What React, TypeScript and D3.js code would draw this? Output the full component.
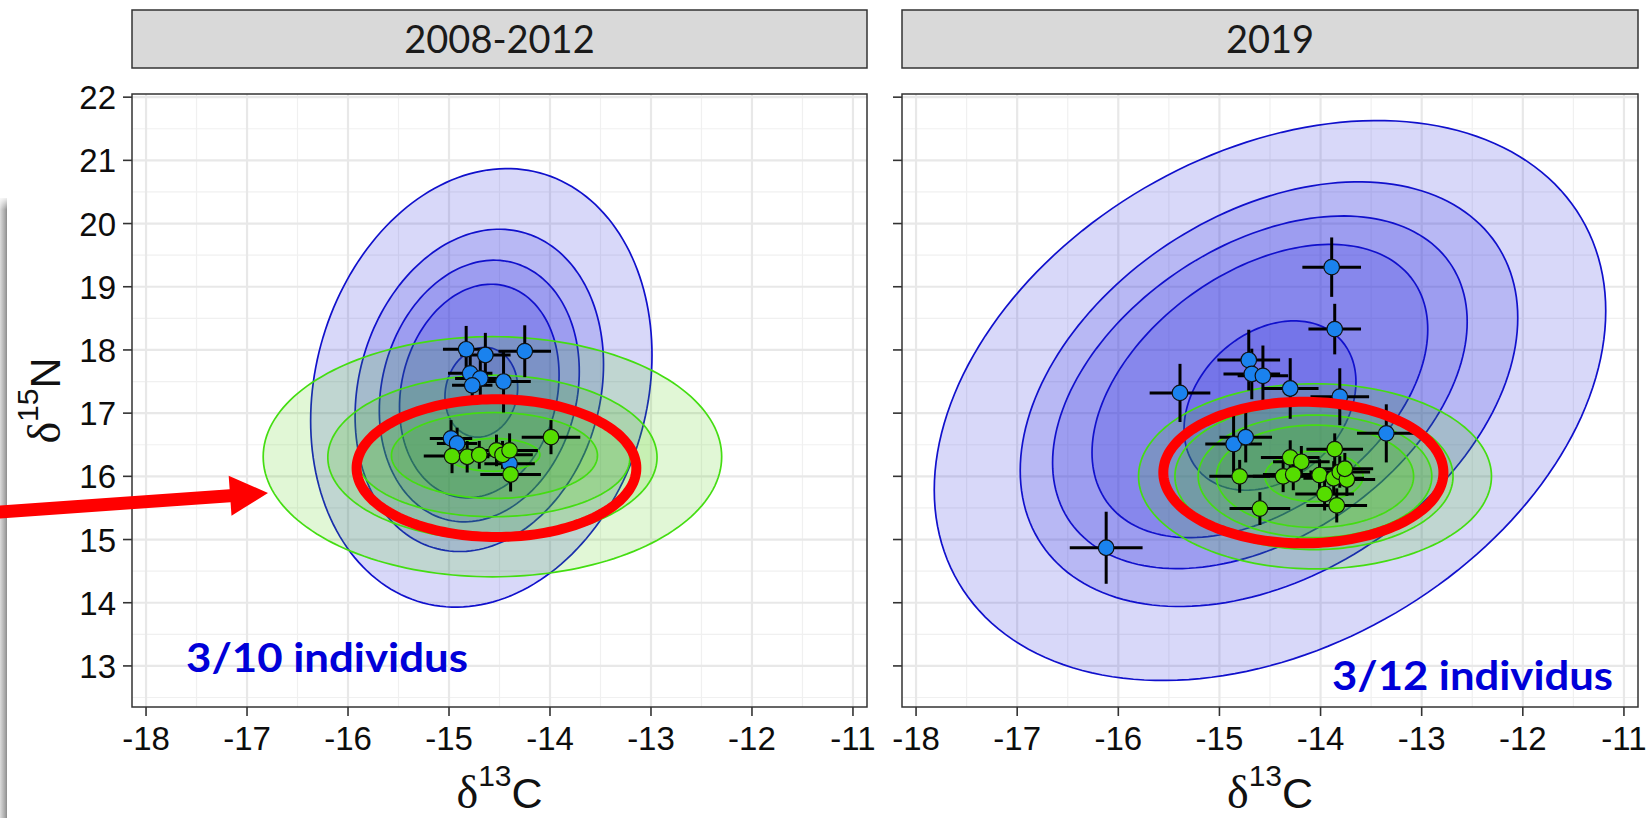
import React from 'react';
import * as d3 from 'd3';

const W = 1648;
const H = 818;

// ---------- data ----------
const panelTitles = ['2008-2012', '2019'];
const xTicks = [-18, -17, -16, -15, -14, -13, -12, -11];
const yTicks = [13, 14, 15, 16, 17, 18, 19, 20, 21, 22];
const xMinor = [-17.5, -16.5, -15.5, -14.5, -13.5, -12.5, -11.5];
const yMinor = [12.5, 13.5, 14.5, 15.5, 16.5, 17.5, 18.5, 19.5, 20.5, 21.5];
const notes = ['3/10 individus', '3/12 individus'];

// contour ellipses: [cx, cy, half-width (C), half-height (N), correlation]
const blueEllipses2008 = [
  [-14.68, 17.4, 1.69, 3.47, 0.15],
  [-14.7, 17.36, 1.23, 2.55, 0.16],
  [-14.7, 17.35, 0.99, 2.07, 0.15],
  [-14.7, 17.35, 0.79, 1.69, 0.15],
  [-14.68, 17.33, 0.36, 0.71, 0.1],
];
const greenEllipses2008 = [
  [-14.57, 16.31, 2.27, 1.9, 0.0],
  [-14.57, 16.3, 1.63, 1.3, 0.0],
  [-14.56, 16.28, 1.35, 0.92, 0.0],
  [-14.55, 16.33, 1.02, 0.68, 0.0],
  [-14.56, 16.34, 0.46, 0.26, 0.0],
];
const blueEllipses2019 = [
  [-14.5, 17.2, 3.32, 4.43, 0.32],
  [-14.51, 17.3, 2.46, 3.36, 0.36],
  [-14.6, 17.33, 2.05, 2.79, 0.4],
  [-14.6, 17.35, 1.66, 2.32, 0.42],
  [-14.5, 17.12, 0.85, 1.34, 0.28],
];
const greenEllipses2019 = [
  [-14.055, 16.0, 1.745, 1.465, 0.0],
  [-14.065, 16.0, 1.375, 1.16, 0.0],
  [-14.055, 16.0, 1.155, 0.97, 0.0],
  [-14.055, 16.0, 0.975, 0.81, 0.0],
  [-14.065, 16.0, 0.485, 0.4, 0.0],
];
// highlight ellipses: [cx, cy, hx, hy]
const redEllipses = [
  [-14.53, 16.13, 1.385, 1.09],
  [-14.17, 16.06, 1.385, 1.12],
];

// points: [d13C, d15N, sdC, sdN]
const bluePoints2008 = [
  [-14.83, 18.01, 0.23, 0.37],
  [-14.64, 17.92, 0.25, 0.35],
  [-14.25, 17.98, 0.26, 0.41],
  [-14.79, 17.63, 0.22, 0.3],
  [-14.69, 17.55, 0.25, 0.3],
  [-14.46, 17.5, 0.27, 0.49],
  [-14.77, 17.44, 0.2, 0.3],
  [-14.98, 16.6, 0.21, 0.29],
  [-14.92, 16.52, 0.2, 0.25],
  [-14.4, 16.2, 0.25, 0.3],
];
const greenPoints2008 = [
  [-14.97, 16.32, 0.28, 0.27],
  [-14.82, 16.31, 0.22, 0.25],
  [-14.7, 16.34, 0.2, 0.22],
  [-14.53, 16.41, 0.25, 0.25],
  [-14.47, 16.34, 0.3, 0.22],
  [-14.4, 16.41, 0.28, 0.27],
  [-14.39, 16.03, 0.3, 0.27],
  [-13.99, 16.62, 0.29, 0.27],
];
const bluePoints2019 = [
  [-13.89, 19.31, 0.29, 0.47],
  [-13.86, 18.33, 0.26, 0.4],
  [-15.39, 17.32, 0.3, 0.46],
  [-14.71, 17.84, 0.31, 0.48],
  [-14.68, 17.62, 0.28, 0.4],
  [-14.57, 17.59, 0.25, 0.48],
  [-14.3, 17.39, 0.28, 0.48],
  [-13.81, 17.26, 0.29, 0.45],
  [-13.35, 16.68, 0.29, 0.46],
  [-14.86, 16.51, 0.28, 0.45],
  [-14.74, 16.62, 0.26, 0.4],
  [-16.12, 14.87, 0.36, 0.57],
];
const greenPoints2019 = [
  [-14.3, 16.3, 0.29, 0.27],
  [-14.19, 16.23, 0.28, 0.25],
  [-13.86, 16.43, 0.28, 0.25],
  [-14.8, 16.0, 0.3, 0.26],
  [-14.37, 16.0, 0.3, 0.25],
  [-14.27, 16.03, 0.3, 0.25],
  [-14.01, 16.02, 0.28, 0.25],
  [-13.87, 15.97, 0.3, 0.27],
  [-13.81, 16.07, 0.3, 0.25],
  [-13.74, 15.95, 0.28, 0.26],
  [-13.76, 16.12, 0.28, 0.25],
  [-13.96, 15.72, 0.29, 0.26],
  [-13.84, 15.54, 0.3, 0.27],
  [-14.6, 15.49, 0.3, 0.26],
];

// ---------- layout ----------
const panels = [
  { x0: 132, x1: 867, title: panelTitles[0], blue: blueEllipses2008, green: greenEllipses2008,
    bp: bluePoints2008, gp: greenPoints2008, red: redEllipses[0], note: notes[0], labels: true,
    noteX: 186, noteY: 672, noteW: 282 },
  { x0: 902, x1: 1638, title: panelTitles[1], blue: blueEllipses2019, green: greenEllipses2019,
    bp: bluePoints2019, gp: greenPoints2019, red: redEllipses[1], note: notes[1], labels: false,
    noteX: 1332, noteY: 690, noteW: 281 },
];
const PT = 94;
const PB = 707;
const xDomain: [number, number] = [-18.139, -10.861];
const yDomain: [number, number] = [12.35, 22.05];

const yScale = d3.scaleLinear().domain(yDomain).range([PB, PT]);

const BLUE_LINE = '#1010cc';
const BLUE_FILL = '#2828dc';
const GREEN_LINE = '#44dd11';
const GREEN_FILL = '#44cc00';

function ellipsePath(e: number[], xs: d3.ScaleLinear<number, number>) {
  const [cx, cy, hx, hy, rho] = e;
  const r = rho || 0;
  const s = Math.sqrt(1 - r * r);
  const ts = d3.range(0, 181).map((i) => (i / 180) * Math.PI * 2);
  const line = d3
    .line<number>()
    .x((t) => xs(cx + hx * Math.cos(t)))
    .y((t) => yScale(cy + hy * (r * Math.cos(t) + s * Math.sin(t))))
    .curve(d3.curveLinearClosed);
  return line(ts) || '';
}

function Panel({ p, idx }: { p: any; idx: number }) {
  const xs = d3.scaleLinear().domain(xDomain).range([p.x0, p.x1]);
  const clipId = `clip${idx}`;
  const pts = [...p.bp.map((d: number[]) => ({ d, c: 'b' })), ...p.gp.map((d: number[]) => ({ d, c: 'g' }))];
  return (
    <g>
      {/* strip */}
      <rect x={p.x0} y={10} width={p.x1 - p.x0} height={58} fill="#d9d9d9" stroke="#333" strokeWidth={1.5} />
      <text x={(p.x0 + p.x1) / 2} y={53} textAnchor="middle" fontFamily="Lato, 'Open Sans', sans-serif"
        fontSize={38} fill="#1a1a1a">{p.title}</text>
      <defs>
        <clipPath id={clipId}>
          <rect x={p.x0} y={PT} width={p.x1 - p.x0} height={PB - PT} />
        </clipPath>
      </defs>
      <rect x={p.x0} y={PT} width={p.x1 - p.x0} height={PB - PT} fill="#fff" />
      {/* grid */}
      {xMinor.map((v) => (
        <line key={'xm' + v} x1={xs(v)} x2={xs(v)} y1={PT} y2={PB} stroke="#f0f0f0" strokeWidth={1.2} />
      ))}
      {yMinor.map((v) => (
        <line key={'ym' + v} x1={p.x0} x2={p.x1} y1={yScale(v)} y2={yScale(v)} stroke="#f0f0f0" strokeWidth={1.2} />
      ))}
      {xTicks.map((v) => (
        <line key={'xg' + v} x1={xs(v)} x2={xs(v)} y1={PT} y2={PB} stroke="#e8e8e8" strokeWidth={2.2} />
      ))}
      {yTicks.map((v) => (
        <line key={'yg' + v} x1={p.x0} x2={p.x1} y1={yScale(v)} y2={yScale(v)} stroke="#e8e8e8" strokeWidth={2.2} />
      ))}
      <g clipPath={`url(#${clipId})`}>
        {p.blue.map((e: number[], i: number) => (
          <path key={'bf' + i} d={ellipsePath(e, xs)} fill={BLUE_FILL} fillOpacity={0.18} stroke="none" />
        ))}
        {p.blue.map((e: number[], i: number) => (
          <path key={'bl' + i} d={ellipsePath(e, xs)} fill="none" stroke={BLUE_LINE} strokeWidth={1.7} />
        ))}
        {p.green.map((e: number[], i: number) => (
          <path key={'gf' + i} d={ellipsePath(e, xs)} fill={GREEN_FILL} fillOpacity={0.16} stroke="none" />
        ))}
        {p.green.map((e: number[], i: number) => (
          <path key={'gl' + i} d={ellipsePath(e, xs)} fill="none" stroke={GREEN_LINE} strokeWidth={1.7} />
        ))}
        {pts.map(({ d }, i) => (
          <g key={'eb' + i} stroke="#000" strokeWidth={3}>
            <line x1={xs(d[0] - d[2])} x2={xs(d[0] + d[2])} y1={yScale(d[1])} y2={yScale(d[1])} />
            <line x1={xs(d[0])} x2={xs(d[0])} y1={yScale(d[1] - d[3])} y2={yScale(d[1] + d[3])} />
          </g>
        ))}
        {pts.map(({ d, c }, i) => (
          <circle key={'pt' + i} cx={xs(d[0])} cy={yScale(d[1])} r={7.8}
            fill={c === 'b' ? '#1a82ee' : '#55dd00'} stroke="#111" strokeWidth={1.2} />
        ))}
      </g>
      {/* panel border */}
      <rect x={p.x0} y={PT} width={p.x1 - p.x0} height={PB - PT} fill="none" stroke="#333" strokeWidth={1.5} />
      {/* ticks */}
      {xTicks.map((v) => (
        <g key={'xt' + v}>
          <line x1={xs(v)} x2={xs(v)} y1={PB} y2={PB + 9} stroke="#333" strokeWidth={1.6} />
          <text x={xs(v)} y={750} textAnchor="middle" fontFamily="'Liberation Sans', Arial, sans-serif"
            fontSize={33} fill="#0d0d0d">{v}</text>
        </g>
      ))}
      {yTicks.map((v) => (
        <g key={'yt' + v}>
          <line x1={p.x0 - 9} x2={p.x0} y1={yScale(v)} y2={yScale(v)} stroke="#333" strokeWidth={1.6} />
          {p.labels && (
            <text x={p.x0 - 16} y={yScale(v) + 12} textAnchor="end" fontFamily="'Liberation Sans', Arial, sans-serif"
              fontSize={33} fill="#0d0d0d">{v}</text>
          )}
        </g>
      ))}
      {/* x axis title */}
      <text x={(p.x0 + p.x1) / 2} y={808} textAnchor="middle" fill="#111" fontFamily="'Liberation Sans', Arial, sans-serif" fontSize={43}>
        <tspan fontFamily="'Liberation Serif', 'DejaVu Serif', serif" fontSize={46}>δ</tspan>
        <tspan fontSize={30} dy={-22}>13</tspan>
        <tspan dy={22}>C</tspan>
      </text>
      {/* red highlight ellipse */}
      <path d={ellipsePath([...p.red, 0], xs)} fill="none" stroke="#ff0000" strokeWidth={10} />
      {/* annotation */}
      <text x={p.noteX} y={p.noteY} fontFamily="Lato, 'Open Sans', sans-serif" fontWeight={700} fontSize={40}
        fill="#0000d8" textLength={p.noteW} lengthAdjust="spacingAndGlyphs">{p.note}</text>
    </g>
  );
}

function Arrow() {
  const tail = [0, 512];
  const tip = [268, 493];
  const dx = tip[0] - tail[0];
  const dy = tip[1] - tail[1];
  const len = Math.hypot(dx, dy);
  const ux = dx / len, uy = dy / len;
  const nx = -uy, ny = ux;
  const sw = 6.5, hl = 38, hw = 20;
  const bx = tip[0] - ux * hl, by = tip[1] - uy * hl;
  const pts = [
    [tail[0] - ux * 5 + nx * sw, tail[1] - uy * 5 + ny * sw],
    [bx + nx * sw, by + ny * sw],
    [bx + nx * hw, by + ny * hw],
    tip,
    [bx - nx * hw, by - ny * hw],
    [bx - nx * sw, by - ny * sw],
    [tail[0] - ux * 5 - nx * sw, tail[1] - uy * 5 - ny * sw],
  ];
  return <path d={'M' + pts.map((q) => q.join(',')).join('L') + 'Z'} fill="#ff0000" />;
}

export default function App() {
  const cy = (PT + PB) / 2;
  return (
    <svg width={W} height={H} style={{ position: 'absolute', left: 0, top: 0, display: 'block', background: '#fff' }}>
      <defs>
        <linearGradient id="shadowG" x1="0" x2="1" y1="0" y2="0">
          <stop offset="0" stopColor="#dcdcdc" />
          <stop offset="0.7" stopColor="#a8a8a8" />
          <stop offset="1" stopColor="#8c8c8c" />
        </linearGradient>
        <linearGradient id="shadowTop" x1="0" x2="0" y1="0" y2="1">
          <stop offset="0" stopColor="#fff" stopOpacity={1} />
          <stop offset="1" stopColor="#fff" stopOpacity={0} />
        </linearGradient>
      </defs>
      <rect x={0} y={0} width={W} height={H} fill="#fff" />
      <rect x={0} y={198} width={7} height={H - 198} fill="url(#shadowG)" />
      <rect x={0} y={196} width={8} height={14} fill="url(#shadowTop)" />
      {panels.map((p, i) => (
        <Panel key={i} p={p} idx={i} />
      ))}
      {/* y axis title */}
      <text transform={`translate(60, ${cy}) rotate(-90)`} textAnchor="middle" fill="#111"
        fontFamily="'Liberation Sans', Arial, sans-serif" fontSize={43}>
        <tspan fontFamily="'Liberation Serif', 'DejaVu Serif', serif" fontSize={46}>δ</tspan>
        <tspan fontSize={30} dy={-22}>15</tspan>
        <tspan dy={22}>N</tspan>
      </text>
      <Arrow />
    </svg>
  );
}
